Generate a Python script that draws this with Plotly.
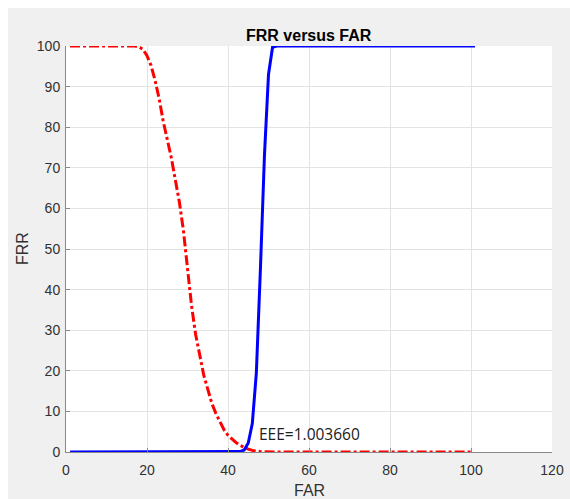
import plotly.graph_objects as go

# ---- data ----
far_red = list(range(1, 101))
frr_red = [100, 100, 100, 100, 100, 100, 100, 100, 100, 100,
           100, 100, 100, 100, 100, 100, 100, 99.8, 99.2, 97.6,
           95.2, 91.5, 87, 81.5, 77, 72.5, 67, 61.5, 54.5, 45,
           36, 29, 23.5, 19, 15.5, 12, 9.5, 7.3, 5.5, 4.1,
           3.1, 2.3, 1.6, 1.1, 0.7, 0.4, 0.2, 0.1, 0.05, 0,
           0, 0, 0, 0, 0, 0, 0, 0, 0, 0,
           0, 0, 0, 0, 0, 0, 0, 0, 0, 0,
           0, 0, 0, 0, 0, 0, 0, 0, 0, 0,
           0, 0, 0, 0, 0, 0, 0, 0, 0, 0,
           0, 0, 0, 0, 0, 0, 0, 0, 0, 0]

far_blue = list(range(1, 102))
frr_blue = [0, 0, 0, 0, 0, 0, 0, 0, 0, 0,
            0, 0, 0, 0, 0, 0, 0, 0, 0, 0,
            0, 0, 0, 0, 0, 0, 0, 0, 0, 0,
            0, 0, 0, 0, 0, 0, 0, 0, 0, 0,
            0, 0, 0.1, 0.5, 2.2, 7, 19.5, 45, 73, 93,
            99.7, 100, 100, 100, 100, 100, 100, 100, 100, 100,
            100, 100, 100, 100, 100, 100, 100, 100, 100, 100,
            100, 100, 100, 100, 100, 100, 100, 100, 100, 100,
            100, 100, 100, 100, 100, 100, 100, 100, 100, 100,
            100, 100, 100, 100, 100, 100, 100, 100, 100, 100,
            100]

x_ticks = [0, 20, 40, 60, 80, 100, 120]
y_ticks = [0, 10, 20, 30, 40, 50, 60, 70, 80, 90, 100]

title_text = "FRR versus FAR"
eer_label = "EEE=1.003660"
eer_pos = (47.2, 4.5)

# ---- figure ----
W, H = 570, 499
L, R, T, B = 66, 18, 46, 47
pw, ph = W - L - R, H - T - B

def px2paper_x(px):
    return (px - L) / pw

def px2paper_y(py):
    return (H - B - py) / ph

fig = go.Figure()
fig.add_trace(go.Scatter(x=far_red, y=frr_red, mode="lines",
                         line=dict(color="#ff0000", width=3, dash="10px,3px,3px,3px"),
                         showlegend=False))
fig.add_trace(go.Scatter(x=far_blue, y=frr_blue, mode="lines",
                         line=dict(color="#0000ff", width=3),
                         showlegend=False))

axis_common = dict(
    showgrid=True, gridcolor="#e3e3e3", gridwidth=1,
    showline=True, linecolor="#8a8a8a", linewidth=1,
    ticks="inside", ticklen=4, tickcolor="#8a8a8a",
    zeroline=False, automargin=False,
    tickfont=dict(family="Liberation Sans, Arial", size=14, color="#303030"),
)

fig.update_xaxes(range=[0, 120], tickvals=x_ticks, ticklabelstandoff=5, **axis_common)
fig.update_yaxes(range=[0, 100], tickvals=y_ticks, ticklabelstandoff=2, **axis_common)

# axis titles
fig.add_annotation(text="FAR", xref="paper", yref="paper",
                   x=0.5, y=px2paper_y(490), xanchor="center", yanchor="middle",
                   showarrow=False,
                   font=dict(family="Liberation Sans, Arial", size=16, color="#303030"))
fig.add_annotation(text="FRR", xref="paper", yref="paper",
                   x=px2paper_x(22), y=px2paper_y(249), xanchor="center", yanchor="middle",
                   textangle=-90, showarrow=False,
                   font=dict(family="Liberation Sans, Arial", size=16, color="#303030"))

# white border strips (figure window edge)
fig.add_shape(type="rect", xref="paper", yref="paper",
              x0=px2paper_x(-5), x1=px2paper_x(W + 5), y0=px2paper_y(8), y1=px2paper_y(-5),
              fillcolor="white", line=dict(width=0), layer="below")
fig.add_shape(type="rect", xref="paper", yref="paper",
              x0=px2paper_x(-5), x1=px2paper_x(8), y0=px2paper_y(H + 5), y1=px2paper_y(-5),
              fillcolor="white", line=dict(width=0), layer="below")

fig.add_annotation(text="<b>" + title_text + "</b>", xref="paper", yref="paper",
                   x=0.5, y=px2paper_y(35), xanchor="center", yanchor="middle",
                   showarrow=False,
                   font=dict(family="Liberation Sans, Arial", size=16, color="#000000"))

fig.add_annotation(text=eer_label, x=eer_pos[0], y=eer_pos[1], xref="x", yref="y",
                   xanchor="left", yanchor="middle", showarrow=False,
                   font=dict(family="Open Sans, Noto Sans", size=15.5, color="#202020"))

fig.update_layout(width=W, height=H, margin=dict(l=L, r=R, t=T, b=B),
                  paper_bgcolor="#f0f0f0", plot_bgcolor="#ffffff")

fig.write_html("out.html")
